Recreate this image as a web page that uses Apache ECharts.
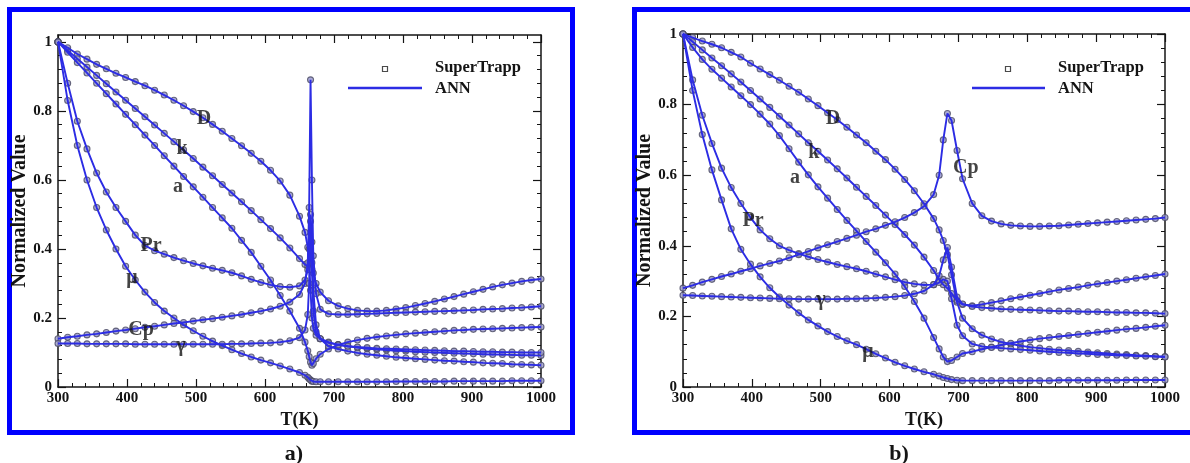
<!DOCTYPE html>
<html>
<head>
<meta charset="utf-8">
<script src="https://cdn.jsdelivr.net/npm/echarts@6/dist/echarts.min.js"></script>
<style>
  html, body { margin: 0; padding: 0; background: #ffffff; }
  #chart { width: 1190px; height: 463px; }
</style>
</head>
<body>
<div id="chart"></div>
<script>
// ---------- Panel a: temperature grid (K) and normalized properties ----------
const T_A = [300,314,328,342,356,370,384,398,412,426,440,454,468,482,496,510,524,538,552,566,580,594,608,622,636,650,
             658,662,664,666,668,670,674,680,
             692,706,720,734,748,762,776,790,804,818,832,846,860,874,888,902,916,930,944,958,972,986,1000];

const D_A  = [1.000,0.983,0.965,0.950,0.935,0.922,0.909,0.897,0.885,0.873,0.860,0.846,0.831,0.815,0.798,0.780,0.761,0.741,0.720,0.699,0.677,0.654,0.628,0.597,0.556,0.495,
              0.448,0.405,0.360,0.280,0.200,0.170,0.150,0.140,
              0.130,0.123,0.118,0.114,0.111,0.109,0.107,0.105,0.104,0.102,0.101,0.100,0.099,0.098,0.097,0.096,0.095,0.094,0.094,0.093,0.092,0.092,0.091];
const K_A  = [1.000,0.975,0.951,0.927,0.903,0.879,0.855,0.831,0.807,0.783,0.759,0.735,0.711,0.687,0.662,0.637,0.612,0.587,0.562,0.537,0.511,0.485,0.459,0.432,0.403,0.372,
              0.355,0.350,0.360,0.380,0.360,0.330,0.300,0.275,
              0.250,0.235,0.227,0.222,0.220,0.220,0.222,0.226,0.230,0.236,0.242,0.248,0.255,0.262,0.269,0.276,0.283,0.290,0.296,0.301,0.306,0.310,0.313];
const AL_A = [1.000,0.970,0.940,0.910,0.880,0.850,0.820,0.790,0.760,0.730,0.700,0.670,0.640,0.610,0.580,0.550,0.520,0.490,0.460,0.425,0.390,0.350,0.310,0.265,0.220,0.170,
              0.130,0.105,0.088,0.072,0.063,0.068,0.082,0.095,
              0.110,0.122,0.130,0.136,0.141,0.145,0.148,0.151,0.154,0.156,0.158,0.160,0.162,0.164,0.165,0.167,0.168,0.169,0.170,0.171,0.172,0.173,0.174];
const PR_A = [1.000,0.880,0.770,0.690,0.620,0.565,0.520,0.480,0.440,0.410,0.395,0.385,0.375,0.366,0.358,0.351,0.344,0.338,0.331,0.322,0.312,0.303,0.296,0.291,0.289,0.293,
              0.310,0.340,0.400,0.500,0.420,0.280,0.180,0.140,
              0.118,0.110,0.104,0.099,0.095,0.092,0.089,0.086,0.084,0.082,0.080,0.078,0.076,0.075,0.073,0.072,0.070,0.069,0.068,0.066,0.065,0.064,0.063];
const MU_A = [1.000,0.830,0.700,0.600,0.520,0.455,0.400,0.350,0.310,0.275,0.245,0.220,0.200,0.180,0.163,0.147,0.133,0.120,0.108,0.097,0.087,0.078,0.070,0.061,0.052,0.042,
              0.034,0.028,0.024,0.020,0.017,0.016,0.015,0.015,
              0.015,0.015,0.015,0.015,0.015,0.015,0.015,0.016,0.016,0.016,0.016,0.016,0.016,0.017,0.017,0.017,0.017,0.017,0.017,0.018,0.018,0.018,0.018];
const CP_A = [0.140,0.144,0.147,0.151,0.154,0.158,0.162,0.165,0.169,0.173,0.176,0.180,0.184,0.187,0.191,0.195,0.198,0.202,0.206,0.210,0.215,0.220,0.226,0.234,0.246,0.268,
              0.300,0.360,0.520,0.890,0.600,0.380,0.270,0.225,
              0.212,0.210,0.210,0.211,0.212,0.213,0.214,0.215,0.216,0.217,0.218,0.219,0.220,0.221,0.222,0.223,0.225,0.226,0.227,0.229,0.230,0.232,0.234];
const GA_A = [0.126,0.126,0.126,0.125,0.125,0.125,0.125,0.125,0.124,0.124,0.124,0.124,0.124,0.124,0.124,0.124,0.124,0.124,0.125,0.125,0.126,0.127,0.128,0.130,0.134,0.143,
              0.165,0.210,0.300,0.480,0.340,0.220,0.160,0.140,
              0.128,0.122,0.118,0.116,0.114,0.112,0.111,0.110,0.109,0.108,0.107,0.106,0.105,0.104,0.104,0.103,0.102,0.102,0.101,0.101,0.100,0.100,0.100];

// ---------- Panel b ----------
const T_B = [300,314,328,342,356,370,384,398,412,426,440,454,468,482,496,510,524,538,552,566,580,594,608,622,636,650,664,
             672,678,684,690,698,706,
             720,734,748,762,776,790,804,818,832,846,860,874,888,902,916,930,944,958,972,986,1000];

const D_B  = [1.000,0.990,0.980,0.971,0.961,0.948,0.935,0.917,0.901,0.885,0.869,0.852,0.835,0.816,0.797,0.777,0.757,0.736,0.714,0.692,0.668,0.644,0.617,0.588,0.556,0.519,0.477,
              0.445,0.415,0.375,0.318,0.240,0.195,
              0.165,0.147,0.136,0.128,0.122,0.117,0.113,0.110,0.107,0.105,0.103,0.101,0.099,0.097,0.095,0.093,0.092,0.090,0.089,0.087,0.086];
const K_B  = [1.000,0.978,0.955,0.932,0.910,0.887,0.864,0.840,0.816,0.792,0.767,0.742,0.717,0.692,0.668,0.643,0.618,0.592,0.566,0.540,0.514,0.487,0.460,0.432,0.402,0.368,0.330,
              0.305,0.290,0.280,0.265,0.245,0.234,
              0.230,0.234,0.239,0.244,0.250,0.255,0.260,0.265,0.270,0.275,0.279,0.283,0.288,0.292,0.296,0.300,0.304,0.308,0.312,0.316,0.320];
const AL_B = [1.000,0.962,0.928,0.900,0.875,0.850,0.825,0.800,0.773,0.745,0.712,0.675,0.637,0.601,0.567,0.535,0.503,0.472,0.442,0.412,0.382,0.352,0.320,0.285,0.242,0.195,0.140,
              0.108,0.085,0.072,0.075,0.085,0.095,
              0.100,0.107,0.113,0.119,0.124,0.129,0.133,0.137,0.140,0.143,0.146,0.149,0.152,0.155,0.158,0.161,0.164,0.166,0.169,0.172,0.175];
const PR_B = [1.000,0.870,0.770,0.690,0.620,0.565,0.520,0.480,0.445,0.420,0.400,0.388,0.378,0.369,0.361,0.354,0.347,0.341,0.335,0.328,0.320,0.312,0.304,0.297,0.292,0.289,0.290,
              0.296,0.305,0.300,0.250,0.175,0.145,
              0.122,0.115,0.112,0.110,0.108,0.106,0.104,0.102,0.100,0.098,0.097,0.095,0.094,0.092,0.091,0.090,0.089,0.088,0.087,0.086,0.085];
const MU_B = [1.000,0.840,0.715,0.615,0.530,0.448,0.390,0.348,0.312,0.281,0.255,0.232,0.210,0.190,0.173,0.157,0.143,0.131,0.120,0.107,0.094,0.082,0.070,0.060,0.051,0.043,0.036,
              0.031,0.027,0.024,0.021,0.019,0.018,
              0.018,0.018,0.018,0.018,0.018,0.018,0.018,0.018,0.018,0.019,0.019,0.019,0.019,0.019,0.019,0.019,0.020,0.020,0.020,0.020,0.020];
const CP_B = [0.280,0.288,0.297,0.305,0.313,0.320,0.328,0.335,0.343,0.350,0.357,0.366,0.375,0.384,0.394,0.403,0.412,0.421,0.430,0.440,0.448,0.458,0.468,0.480,0.494,0.512,0.545,
              0.600,0.700,0.775,0.755,0.670,0.590,
              0.520,0.485,0.470,0.462,0.458,0.456,0.455,0.455,0.456,0.457,0.459,0.461,0.463,0.465,0.467,0.469,0.471,0.473,0.475,0.477,0.480];
const GA_B = [0.260,0.259,0.258,0.257,0.256,0.255,0.254,0.253,0.252,0.251,0.250,0.250,0.249,0.249,0.249,0.249,0.249,0.250,0.250,0.251,0.252,0.254,0.256,0.259,0.264,0.272,0.290,
              0.315,0.360,0.395,0.340,0.255,0.235,
              0.228,0.225,0.223,0.221,0.220,0.219,0.218,0.217,0.216,0.215,0.215,0.214,0.213,0.213,0.212,0.211,0.211,0.210,0.210,0.209,0.208];

// Curve names as printed next to each curve, with their anchor point [T, value]
const NAMES_A = [['D', 511.6, 0.777], ['k', 479.7, 0.690], ['a', 473.9, 0.580], ['Pr', 434.8, 0.409],
                 ['\u03bc', 407.2, 0.316], ['Cp', 420.3, 0.165], ['\u03b3', 478.3, 0.119]];
const NAMES_B = [['D', 517.7, 0.759], ['k', 490.1, 0.663], ['a', 462.6, 0.592], ['Pr', 401.6, 0.470],
                 ['\u03b3', 500.3, 0.246], ['\u03bc', 568.5, 0.099], ['Cp', 710.7, 0.620]];

// Axis ticks
const X_MIN = 300, X_MAX = 1000, X_STEP = 100;
const Y_TICKS = [0, 0.2, 0.4, 0.6, 0.8, 1];
const Y_MINOR_TICKS = [0.04,0.08,0.12,0.16,0.24,0.28,0.32,0.36,0.44,0.48,0.52,0.56,0.64,0.68,0.72,0.76,0.84,0.88,0.92,0.96];

// Legend / caption text
const LEGEND_MARK = 'SuperTrapp';
const LEGEND_LINE = 'ANN';
const CAPTIONS = ['a)', 'b)'];

// ---------- styling ----------
const FONT = '"Liberation Serif", "Times New Roman", serif';
const INK = '#141414';
const BLUE_LINE = '#2c2ce4';
const FRAME = '#0000ff';

const axisLine = { show: true, onZero: false, lineStyle: { color: INK, width: 1.5 } };
const tickMajor = { show: true, inside: true, length: 8, lineStyle: { color: INK, width: 1.2 } };
const minorTick = { show: true, splitNumber: 5, length: 4, lineStyle: { color: INK, width: 1 } };
const labelFont = { fontFamily: FONT, fontWeight: 'bold', fontSize: 15, color: INK };

function xAxisFor(grid, pos) {
  const bottom = pos === 'bottom';
  return {
    type: 'value', gridIndex: grid, position: pos, min: X_MIN, max: X_MAX, interval: X_STEP,
    axisLine: axisLine, axisTick: tickMajor, minorTick: minorTick, splitLine: { show: false },
    axisLabel: Object.assign({ show: bottom, margin: 4, formatter: v => String(v) }, labelFont),
    name: bottom ? 'T(K)' : '', nameLocation: 'middle', nameGap: 20,
    nameTextStyle: { fontFamily: FONT, fontWeight: 'bold', fontSize: 18, color: INK }
  };
}

function yName(show) {
  return {
    name: show ? 'Normalized Value' : '', nameLocation: 'middle', nameGap: 22, nameRotate: 90,
    nameTextStyle: { fontFamily: FONT, fontWeight: 'bold', fontSize: 20, color: INK }
  };
}

const yFmt = v => (Y_TICKS.some(t => Math.abs(t - v) < 1e-9) ? String(v) : '');

// panel a: value axis runs slightly past 1, ticks listed explicitly
function yAxesA(grid, pos) {
  const left = pos === 'left';
  const major = Object.assign({
    type: 'value', gridIndex: grid, position: pos, min: 0, max: 1.02, interval: 0.2,
    axisLine: axisLine,
    axisTick: Object.assign({ customValues: Y_TICKS }, tickMajor),
    minorTick: { show: false }, splitLine: { show: false },
    axisLabel: Object.assign({ show: left, margin: 6, customValues: Y_TICKS, formatter: yFmt }, labelFont)
  }, yName(left));
  const minor = {
    type: 'value', gridIndex: grid, position: pos, min: 0, max: 1.02, interval: 0.2,
    axisLine: { show: false },
    axisTick: { show: true, inside: true, length: 4, customValues: Y_MINOR_TICKS, lineStyle: { color: INK, width: 1 } },
    minorTick: { show: false }, splitLine: { show: false }, axisLabel: { show: false }
  };
  return [major, minor];
}

function yAxisB(grid, pos) {
  const left = pos === 'left';
  return Object.assign({
    type: 'value', gridIndex: grid, position: pos, min: 0, max: 1, interval: 0.2,
    axisLine: axisLine, axisTick: tickMajor, minorTick: minorTick, splitLine: { show: false },
    axisLabel: Object.assign({ show: left, margin: 6, formatter: v => String(v) }, labelFont)
  }, yName(left));
}

const series = [];
function addPanel(T, curves, names, xi, yi) {
  curves.forEach(vals => {
    const pts = T.map((t, i) => [t, vals[i]]);
    series.push({
      type: 'scatter', xAxisIndex: xi, yAxisIndex: yi, data: pts, silent: true, z: 2,
      symbol: 'circle', symbolSize: 6,
      itemStyle: { color: '#9696cc', borderColor: '#484860', borderWidth: 1.1 }
    });
    series.push({
      type: 'line', xAxisIndex: xi, yAxisIndex: yi, data: pts, silent: true, z: 3,
      showSymbol: false, symbol: 'none', lineStyle: { color: BLUE_LINE, width: 1.9 }
    });
  });
  series.push({
    type: 'scatter', xAxisIndex: xi, yAxisIndex: yi, silent: true, z: 6,
    symbolSize: 1, itemStyle: { color: 'transparent' },
    data: names.map(([txt, t, v]) => ({ name: txt, value: [t, v] })),
    label: { show: true, position: 'inside', formatter: '{b}',
             fontFamily: FONT, fontWeight: 'bold', fontSize: 20, color: INK }
  });
}

addPanel(T_A, [D_A, K_A, AL_A, PR_A, MU_A, CP_A, GA_A], NAMES_A, 0, 0);
addPanel(T_B, [D_B, K_B, AL_B, PR_B, MU_B, CP_B, GA_B], NAMES_B, 2, 4);

// legend block and panel frames
function legendBlock(markX, lineX0, lineX1, textX) {
  const txt = (s, y) => ({
    type: 'text', silent: true, z: 10,
    style: { text: s, x: textX, y: y, fill: INK, font: 'bold 16.5px ' + FONT,
             textAlign: 'left', align: 'left', textVerticalAlign: 'middle', verticalAlign: 'middle' }
  });
  return [
    { type: 'rect', silent: true, z: 10, shape: { x: markX - 2.5, y: 66.5, width: 5, height: 5 },
      style: { fill: 'none', stroke: '#4a4a4a', lineWidth: 1.2 } },
    txt(LEGEND_MARK, 68),
    { type: 'line', silent: true, z: 10, shape: { x1: lineX0, y1: 88, x2: lineX1, y2: 88 },
      style: { stroke: BLUE_LINE, lineWidth: 2.5 } },
    txt(LEGEND_LINE, 89)
  ];
}
function frame(x) {
  return { type: 'rect', silent: true, z: 0, shape: { x: x, y: 9.5, width: 563, height: 423 },
           style: { fill: 'none', stroke: FRAME, lineWidth: 5 } };
}
function caption(s, cx) {
  return { type: 'text', silent: true, z: 10,
           style: { text: s, x: cx, y: 454, fill: INK, font: 'bold 22px ' + FONT,
                    textAlign: 'center', align: 'center', textVerticalAlign: 'middle', verticalAlign: 'middle' } };
}

const chart = echarts.init(document.getElementById('chart'), null, { renderer: 'canvas' });
chart.setOption({
  backgroundColor: '#ffffff',
  animation: false,
  grid: [
    { left: 58, top: 35, width: 483, height: 352 },
    { left: 683, top: 34, width: 482, height: 353 }
  ],
  xAxis: [xAxisFor(0, 'bottom'), xAxisFor(0, 'top'), xAxisFor(1, 'bottom'), xAxisFor(1, 'top')],
  yAxis: [].concat(yAxesA(0, 'left'), yAxesA(0, 'right'), [yAxisB(1, 'left'), yAxisB(1, 'right')]),
  series: series,
  graphic: [].concat(
    [frame(9.5), frame(634.5)],
    legendBlock(385, 348, 422, 435),
    legendBlock(1008, 972, 1045, 1058),
    [caption(CAPTIONS[0], 294), caption(CAPTIONS[1], 899)]
  )
});
</script>
</body>
</html>
